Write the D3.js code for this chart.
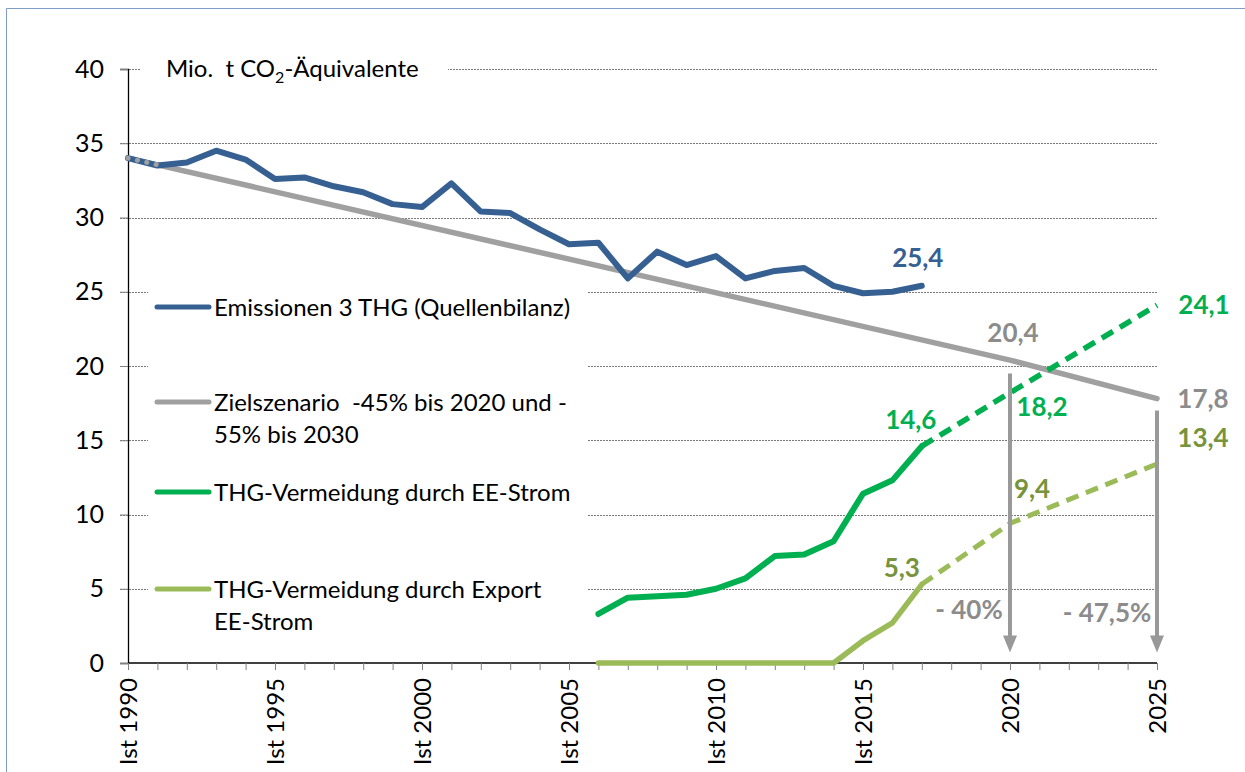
<!DOCTYPE html>
<html>
<head>
<meta charset="utf-8">
<script src="https://cdn.jsdelivr.net/npm/d3@7"></script>
<style>
	body { margin: 0; background: #fff; }
	svg { display: block; font-family: Lato, "Open Sans", sans-serif; }
	svg text { white-space: pre; }
</style>
</head>
<body>
<div id="chart"></div>
<script>
// Emissionen 3 THG (Quellenbilanz), Ist-Werte
const emissionYears = [1990, 1991, 1992, 1993, 1994, 1995, 1996, 1997, 1998, 1999, 2000, 2001, 2002, 2003,
	2004, 2005, 2006, 2007, 2008, 2009, 2010, 2011, 2012, 2013, 2014, 2015, 2016, 2017];
const emissions = [34.0, 33.5, 33.7, 34.5, 33.9, 32.6, 32.7, 32.1, 31.7, 30.9, 30.7, 32.3, 30.4, 30.3,
	29.2, 28.2, 28.3, 25.9, 27.7, 26.8, 27.4, 25.9, 26.4, 26.6, 25.4, 24.9, 25.0, 25.4];

// Zielszenario
const targetYears = [1990, 2020, 2025];
const target = [34.0, 20.4, 17.8];

// THG-Vermeidung
const avoidYears = [2006, 2007, 2008, 2009, 2010, 2011, 2012, 2013, 2014, 2015, 2016, 2017];
const avoidEE = [3.3, 4.4, 4.5, 4.6, 5.0, 5.7, 7.2, 7.3, 8.2, 11.4, 12.3, 14.6];
const avoidExport = [0, 0, 0, 0, 0, 0, 0, 0, 0, 1.5, 2.7, 5.3];

const forecastYears = [2017, 2020, 2025];
const forecastEE = [14.6, 18.2, 24.1];
const forecastExport = [5.3, 9.4, 13.4];

const yTicks = [0, 5, 10, 15, 20, 25, 30, 35, 40];
const xLabelYears = [1990, 1995, 2000, 2005, 2010, 2015, 2020, 2025];
const xLabels = ["Ist 1990", "Ist 1995", "Ist 2000", "Ist 2005", "Ist 2010", "Ist 2015", "2020", "2025"];

const legendLabels = [
	["Emissionen 3 THG (Quellenbilanz)"],
	["Zielszenario  -45% bis 2020 und -", "55% bis 2030"],
	["THG-Vermeidung durch EE-Strom"],
	["THG-Vermeidung durch Export", "EE-Strom"]
];

const colors = {
	blue: "#366092",
	gray: "#a0a0a0",
	grayText: "#8c8c8c",
	green: "#00b050",
	light: "#9bbb59",
	olive: "#77933c"
};

const width = 1245, height = 772;

const x = d3.scaleLinear().domain([1990, 2025]).range([128, 1157]);
const y = d3.scaleLinear().domain([0, 40]).range([663, 69]);

const svg = d3.select("#chart")
	.append("svg")
	.attr("width", width)
	.attr("height", height);

// frame
svg.append("path")
	.attr("d", `M6.5,${height} V8.5 H${width}`)
	.attr("fill", "none")
	.attr("stroke", "#7f9dc9")
	.attr("stroke-width", 1);

// gridlines
svg.append("g")
	.selectAll("line")
	.data(yTicks.filter((d) => d > 0))
	.enter()
	.append("line")
	.attr("x1", x(1990) - 8)
	.attr("x2", x(2025))
	.attr("y1", (d) => Math.round(y(d)) + 0.5)
	.attr("y2", (d) => Math.round(y(d)) + 0.5)
	.attr("stroke", "#7a7a7a")
	.attr("stroke-width", 1)
	.attr("stroke-dasharray", "2,1");

// white boxes behind title and legend
svg.append("rect").attr("x", 141).attr("y", 52).attr("width", 307).attr("height", 36).attr("fill", "#fff");
svg.append("rect").attr("x", 148).attr("y", 282).attr("width", 440).attr("height", 360).attr("fill", "#fff");

// axes
const yAxis = d3.axisLeft(y).tickValues(yTicks).tickSize(8).tickPadding(16).tickFormat(d3.format("d"));
const gy = svg.append("g").attr("transform", `translate(${x(1990)},0)`).call(yAxis);
gy.select(".domain").attr("stroke", "#000").attr("stroke-width", 1.3);
gy.selectAll(".tick line").attr("stroke", "#808080");
gy.selectAll(".tick text")
	.attr("font-size", 25)
	.attr("font-family", "Lato, sans-serif")
	.attr("fill", "#000");

const xAxis = d3.axisBottom(x).tickValues(d3.range(1990, 2026)).tickSize(7).tickFormat("");
const gx = svg.append("g").attr("transform", `translate(0,${y(0)})`).call(xAxis);
gx.select(".domain").attr("stroke", "#000").attr("stroke-width", 1.3).attr("d", `M${x(1990)},0H${x(2025)}`);
gx.selectAll(".tick line").attr("stroke", "#808080");

svg.append("g")
	.selectAll("text")
	.data(xLabelYears)
	.enter()
	.append("text")
	.attr("transform", (d) => `translate(${x(d) + 9},${y(0) + 15}) rotate(-90)`)
	.attr("text-anchor", "end")
	.attr("font-size", 24)
	.attr("fill", "#000")
	.text((d, i) => xLabels[i]);

// unit title
const title = svg.append("text").attr("x", 166).attr("y", 77).attr("font-size", 24).attr("fill", "#000");
title.append("tspan").text("Mio.  t CO");
title.append("tspan").attr("font-size", 16).attr("dy", 6).text("2");
title.append("tspan").attr("dy", -6).text("-Äquivalente");

const line = d3.line().x((d) => x(d[0])).y((d) => y(d[1]));
const zip = (a, b) => a.map((v, i) => [v, b[i]]);

function drawLine(points, color, w, dash) {
	svg.append("path")
		.datum(points)
		.attr("d", line)
		.attr("fill", "none")
		.attr("stroke", color)
		.attr("stroke-width", w)
		.attr("stroke-linejoin", "round")
		.attr("stroke-linecap", dash ? "butt" : "round")
		.attr("stroke-dasharray", dash || null);
}

const targetPts = zip(targetYears, target);
drawLine(targetPts, colors.gray, 5.5);
drawLine(zip(emissionYears, emissions), colors.blue, 6);
// dotted target overlay at start
const firstStep = [targetPts[0], [1991, target[0] + (target[1] - target[0]) / 30]];
svg.append("path")
	.datum(firstStep)
	.attr("d", line)
	.attr("stroke", colors.gray)
	.attr("stroke-width", 5)
	.attr("stroke-linecap", "round")
	.attr("stroke-dasharray", "0.1,9.5");

drawLine(zip(avoidYears, avoidEE), colors.green, 6);
drawLine(zip(forecastYears, forecastEE), colors.green, 5.5, "13,8");
drawLine(zip(avoidYears, avoidExport), colors.light, 5.5);
drawLine(zip(forecastYears, forecastExport), colors.light, 5, "13,8");

// arrows
const arrows = [
	{ year: 2020, from: 19.5, to: 0.7 },
	{ year: 2025, from: 17.0, to: 0.7 }
];
arrows.forEach((a) => {
	const ax = x(a.year), y1 = y(a.from), y2 = y(a.to);
	svg.append("line")
		.attr("x1", ax).attr("x2", ax)
		.attr("y1", y1).attr("y2", y2 - 14)
		.attr("stroke", "#999").attr("stroke-width", 4);
	svg.append("path")
		.attr("d", `M${ax - 7},${y2 - 17} L${ax + 7},${y2 - 17} L${ax},${y2} Z`)
		.attr("fill", "#999");
});

// value labels
const valueLabels = [
	{ text: "25,4", year: 2017, value: 25.4, dx: -4, dy: -28, color: colors.blue },
	{ text: "24,1", year: 2025, value: 24.1, dx: 47, dy: 0, color: colors.green },
	{ text: "20,4", year: 2020, value: 20.4, dx: 3, dy: -27, color: colors.grayText },
	{ text: "18,2", year: 2020, value: 18.2, dx: 32, dy: 14, color: colors.green },
	{ text: "17,8", year: 2025, value: 17.8, dx: 46, dy: 0, color: colors.grayText },
	{ text: "14,6", year: 2017, value: 14.6, dx: -11, dy: -26, color: colors.green },
	{ text: "13,4", year: 2025, value: 13.4, dx: 46, dy: -26, color: colors.olive },
	{ text: "9,4", year: 2020, value: 9.4, dx: 22, dy: -35, color: colors.olive },
	{ text: "5,3", year: 2017, value: 5.3, dx: -20, dy: -16, color: colors.olive },
	{ text: "- 40%", year: 2020, value: 5.3, dx: -41, dy: 26, color: colors.grayText },
	{ text: "- 47,5%", year: 2025, value: 5.3, dx: -50, dy: 29, color: colors.grayText }
];
svg.append("g")
	.selectAll("text")
	.data(valueLabels)
	.enter()
	.append("text")
	.attr("x", (d) => x(d.year) + d.dx)
	.attr("y", (d) => y(d.value) + d.dy)
	.attr("text-anchor", "middle")
	.attr("dy", "0.35em")
	.attr("font-size", 26)
	.attr("font-weight", "bold")
	.attr("fill", (d) => d.color)
	.text((d) => d.text);

// legend
const legendColors = [colors.blue, colors.gray, colors.green, colors.light];
const legendY = [307, 402, 492, 589];
const lg = svg.append("g")
	.selectAll("g")
	.data(legendLabels)
	.enter()
	.append("g")
	.attr("transform", (d, i) => `translate(0,${legendY[i]})`);
lg.append("line")
	.attr("x1", 157).attr("x2", 209)
	.attr("stroke", (d, i) => legendColors[i])
	.attr("stroke-width", 5)
	.attr("stroke-linecap", "round");
lg.selectAll("text")
	.data((d) => d)
	.enter()
	.append("text")
	.attr("x", 214)
	.attr("y", (d, i) => i * 32)
	.attr("dy", "0.36em")
	.attr("font-size", 24)
	.attr("fill", "#000")
	.text((d) => d);
</script>
</body>
</html>
